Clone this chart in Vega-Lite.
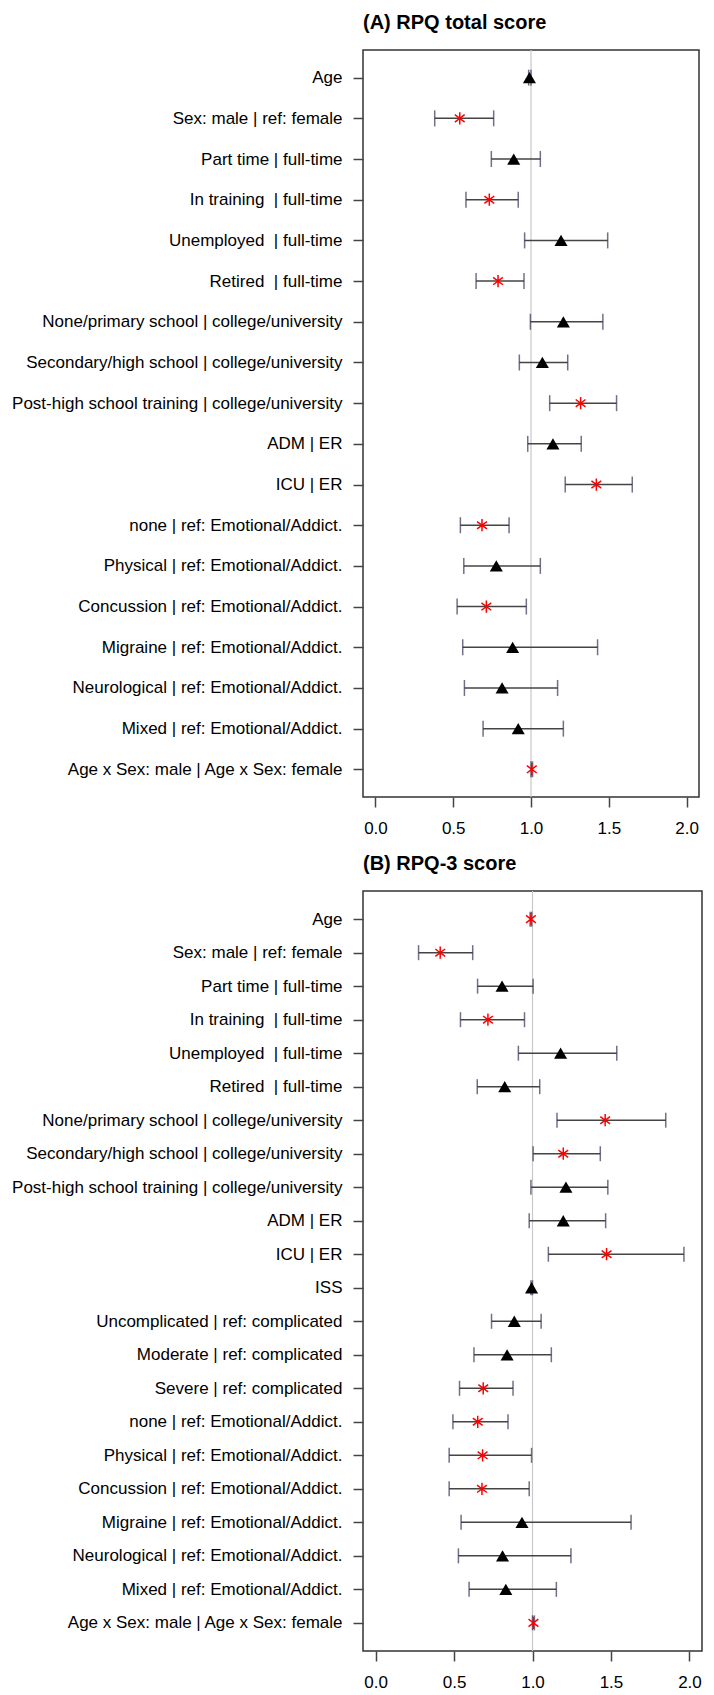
{
  "$schema": "https://vega.github.io/schema/vega-lite/v6.json",
  "padding": {"left": 10, "top": 12, "right": 0, "bottom": 0},
  "background": "white",
  "spacing": 16,
  "config": {
    "font": "Liberation Sans",
    "view": {"stroke": "#333333", "strokeWidth": 1.5},
    "axis": {"grid": false, "domain": false, "tickColor": "#444444", "tickWidth": 1.5, "tickSize": 10, "labelFont": "Liberation Sans", "labelFontSize": 17, "labelColor": "#000000", "labelLimit": 0, "title": null},
    "title": {"font": "Liberation Sans", "fontSize": 20, "fontWeight": "bold", "anchor": "start", "frame": "group", "offset": 16, "color": "#000000"}
  },
  "datasets": {
    "A": [
      {"label": "Age", "est": 0.99, "lo": 0.985, "hi": 1.0, "sig": "no"},
      {"label": "Sex: male | ref: female", "est": 0.542, "lo": 0.381, "hi": 0.76, "sig": "yes"},
      {"label": "Part time | full-time", "est": 0.889, "lo": 0.745, "hi": 1.06, "sig": "no"},
      {"label": "In training\u00a0 | full-time", "est": 0.732, "lo": 0.582, "hi": 0.918, "sig": "yes"},
      {"label": "Unemployed\u00a0 | full-time", "est": 1.193, "lo": 0.959, "hi": 1.493, "sig": "no"},
      {"label": "Retired\u00a0 | full-time", "est": 0.788, "lo": 0.647, "hi": 0.955, "sig": "yes"},
      {"label": "None/primary school | college/university", "est": 1.208, "lo": 0.996, "hi": 1.462, "sig": "no"},
      {"label": "Secondary/high school | college/university", "est": 1.073, "lo": 0.925, "hi": 1.236, "sig": "no"},
      {"label": "Post-high school training | college/university", "est": 1.319, "lo": 1.12, "hi": 1.55, "sig": "yes"},
      {"label": "ADM | ER", "est": 1.141, "lo": 0.979, "hi": 1.323, "sig": "no"},
      {"label": "ICU | ER\u00a0", "est": 1.42, "lo": 1.22, "hi": 1.651, "sig": "yes"},
      {"label": "none | ref: Emotional/Addict.", "est": 0.685, "lo": 0.546, "hi": 0.859, "sig": "yes"},
      {"label": "Physical | ref: Emotional/Addict.", "est": 0.777, "lo": 0.568, "hi": 1.06, "sig": "no"},
      {"label": "Concussion | ref: Emotional/Addict.", "est": 0.713, "lo": 0.525, "hi": 0.97, "sig": "yes"},
      {"label": "Migraine | ref: Emotional/Addict.", "est": 0.882, "lo": 0.561, "hi": 1.428, "sig": "no"},
      {"label": "Neurological | ref: Emotional/Addict.", "est": 0.814, "lo": 0.572, "hi": 1.171, "sig": "no"},
      {"label": "Mixed | ref: Emotional/Addict.", "est": 0.918, "lo": 0.692, "hi": 1.208, "sig": "no"},
      {"label": "Age x Sex: male | Age x Sex: female", "est": 1.005, "lo": 1.0, "hi": 1.01, "sig": "yes"}
    ],
    "B": [
      {"label": "Age", "est": 0.99, "lo": 0.985, "hi": 0.995, "sig": "yes"},
      {"label": "Sex: male | ref: female", "est": 0.412, "lo": 0.274, "hi": 0.619, "sig": "yes"},
      {"label": "Part time | full-time", "est": 0.806, "lo": 0.65, "hi": 1.004, "sig": "no"},
      {"label": "In training\u00a0 | full-time", "est": 0.716, "lo": 0.541, "hi": 0.949, "sig": "yes"},
      {"label": "Unemployed\u00a0 | full-time", "est": 1.179, "lo": 0.91, "hi": 1.537, "sig": "no"},
      {"label": "Retired\u00a0 | full-time", "est": 0.823, "lo": 0.648, "hi": 1.046, "sig": "no"},
      {"label": "None/primary school | college/university", "est": 1.463, "lo": 1.156, "hi": 1.849, "sig": "yes"},
      {"label": "Secondary/high school | college/university", "est": 1.196, "lo": 1.004, "hi": 1.432, "sig": "yes"},
      {"label": "Post-high school training | college/university", "est": 1.213, "lo": 0.99, "hi": 1.48, "sig": "no"},
      {"label": "ADM | ER", "est": 1.196, "lo": 0.979, "hi": 1.466, "sig": "no"},
      {"label": "ICU | ER\u00a0", "est": 1.472, "lo": 1.101, "hi": 1.965, "sig": "yes"},
      {"label": "ISS", "est": 0.994, "lo": 0.99, "hi": 1.0, "sig": "no"},
      {"label": "Uncomplicated | ref: complicated", "est": 0.884, "lo": 0.739, "hi": 1.055, "sig": "no"},
      {"label": "Moderate | ref: complicated", "est": 0.838, "lo": 0.627, "hi": 1.12, "sig": "no"},
      {"label": "Severe | ref: complicated", "est": 0.686, "lo": 0.535, "hi": 0.876, "sig": "yes"},
      {"label": "none | ref: Emotional/Addict.", "est": 0.651, "lo": 0.493, "hi": 0.844, "sig": "yes"},
      {"label": "Physical | ref: Emotional/Addict.", "est": 0.682, "lo": 0.469, "hi": 0.994, "sig": "yes"},
      {"label": "Concussion | ref: Emotional/Addict.", "est": 0.678, "lo": 0.469, "hi": 0.979, "sig": "yes"},
      {"label": "Migraine | ref: Emotional/Addict.", "est": 0.933, "lo": 0.545, "hi": 1.628, "sig": "no"},
      {"label": "Neurological | ref: Emotional/Addict.", "est": 0.809, "lo": 0.528, "hi": 1.245, "sig": "no"},
      {"label": "Mixed | ref: Emotional/Addict.", "est": 0.83, "lo": 0.596, "hi": 1.152, "sig": "no"},
      {"label": "Age x Sex: male | Age x Sex: female", "est": 1.006, "lo": 1.0, "hi": 1.012, "sig": "yes"}
    ],
    "ref": [{"v": 1}]
  },
  "resolve": {"scale": {"x": "independent", "y": "independent"}},
  "vconcat": [
    {
      "title": "(A) RPQ total score",
      "width": 336,
      "height": 747,
      "encoding": {
        "y": {"field": "label", "type": "nominal", "sort": null, "scale": {"type": "point", "padding": 0.68}, "axis": {"labelPadding": 11}}
      },
      "layer": [
        {
          "data": {"name": "ref"},
          "mark": {"type": "rule", "color": "#c8c8c8", "strokeWidth": 1.2},
          "encoding": {"x": {"field": "v", "type": "quantitative"}, "y": null}
        },
        {
          "data": {"name": "A"},
          "mark": {"type": "rule", "color": "#444444", "strokeWidth": 1.5},
          "encoding": {
            "x": {"field": "lo", "type": "quantitative", "scale": {"domain": [-0.08, 2.08], "nice": false, "zero": false}, "axis": {"values": [0, 0.5, 1, 1.5, 2], "format": ".1f", "labelPadding": 13}},
            "x2": {"field": "hi"}
          }
        },
        {
          "data": {"name": "A"},
          "mark": {"type": "tick", "color": "#333355", "thickness": 1.5, "size": 16},
          "encoding": {"x": {"field": "lo", "type": "quantitative"}}
        },
        {
          "data": {"name": "A"},
          "mark": {"type": "tick", "color": "#333355", "thickness": 1.5, "size": 16},
          "encoding": {"x": {"field": "hi", "type": "quantitative"}}
        },
        {
          "data": {"name": "A"},
          "transform": [{"filter": "datum.sig === 'no'"}],
          "mark": {"type": "point", "shape": "triangle-up", "filled": true, "color": "#000000", "size": 170, "opacity": 1},
          "encoding": {"x": {"field": "est", "type": "quantitative"}}
        },
        {
          "data": {"name": "A"},
          "transform": [{"filter": "datum.sig === 'yes'"}],
          "mark": {"type": "point", "shape": "M0,-1L0,1M-0.8,-0.6L0.8,0.6M-0.8,0.6L0.8,-0.6", "filled": false, "color": "#ff0000", "strokeWidth": 1.5, "size": 150, "opacity": 1},
          "encoding": {"x": {"field": "est", "type": "quantitative"}}
        }
      ]
    },
    {
      "title": "(B) RPQ-3 score",
      "width": 339,
      "height": 760,
      "encoding": {
        "y": {"field": "label", "type": "nominal", "sort": null, "scale": {"type": "point", "padding": 0.84}, "axis": {"labelPadding": 11}}
      },
      "layer": [
        {
          "data": {"name": "ref"},
          "mark": {"type": "rule", "color": "#c8c8c8", "strokeWidth": 1.2},
          "encoding": {"x": {"field": "v", "type": "quantitative"}, "y": null}
        },
        {
          "data": {"name": "B"},
          "mark": {"type": "rule", "color": "#444444", "strokeWidth": 1.5},
          "encoding": {
            "x": {"field": "lo", "type": "quantitative", "scale": {"domain": [-0.08, 2.08], "nice": false, "zero": false}, "axis": {"values": [0, 0.5, 1, 1.5, 2], "format": ".1f", "labelPadding": 13}},
            "x2": {"field": "hi"}
          }
        },
        {
          "data": {"name": "B"},
          "mark": {"type": "tick", "color": "#333355", "thickness": 1.5, "size": 15},
          "encoding": {"x": {"field": "lo", "type": "quantitative"}}
        },
        {
          "data": {"name": "B"},
          "mark": {"type": "tick", "color": "#333355", "thickness": 1.5, "size": 15},
          "encoding": {"x": {"field": "hi", "type": "quantitative"}}
        },
        {
          "data": {"name": "B"},
          "transform": [{"filter": "datum.sig === 'no'"}],
          "mark": {"type": "point", "shape": "triangle-up", "filled": true, "color": "#000000", "size": 170, "opacity": 1},
          "encoding": {"x": {"field": "est", "type": "quantitative"}}
        },
        {
          "data": {"name": "B"},
          "transform": [{"filter": "datum.sig === 'yes'"}],
          "mark": {"type": "point", "shape": "M0,-1L0,1M-0.8,-0.6L0.8,0.6M-0.8,0.6L0.8,-0.6", "filled": false, "color": "#ff0000", "strokeWidth": 1.5, "size": 150, "opacity": 1},
          "encoding": {"x": {"field": "est", "type": "quantitative"}}
        }
      ]
    }
  ]
}
